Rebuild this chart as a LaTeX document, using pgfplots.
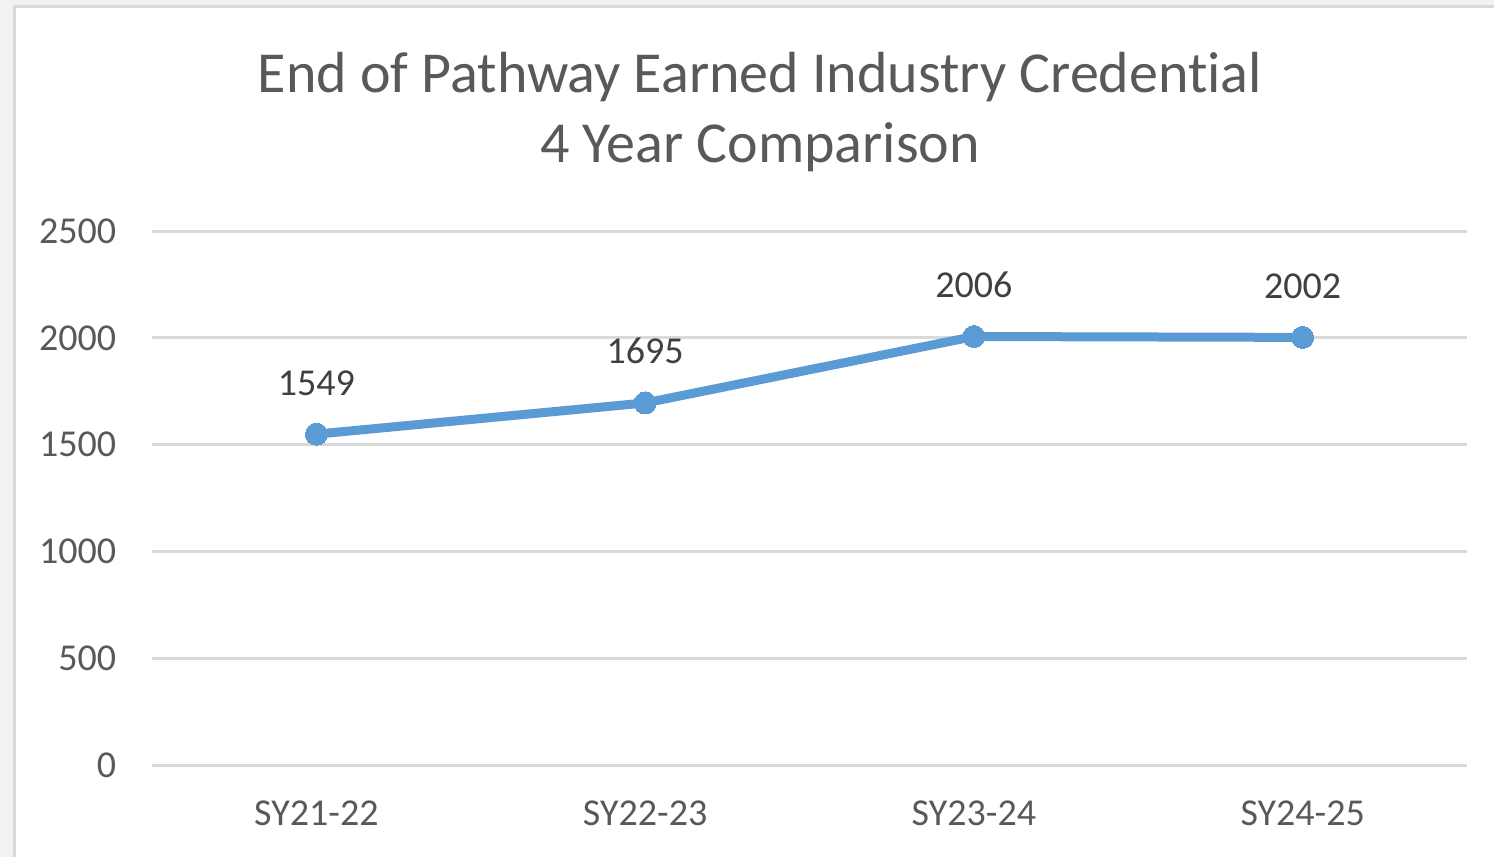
\documentclass[border=0pt]{standalone}
\usepackage{pgfplots}
\pgfplotsset{compat=1.18}
\usepackage{fontspec}
\setmainfont{Carlito}[Ligatures=CommonOff]

\definecolor{pagebg}{HTML}{F2F2F2}
\definecolor{frame}{HTML}{D9D9D9}
\definecolor{gridc}{HTML}{D9D9D9}
\definecolor{txt}{HTML}{595959}
\definecolor{lbl}{HTML}{404040}
\definecolor{series}{HTML}{5B9BD5}

\begin{document}
\begin{tikzpicture}
% canvas and chart frame
\fill[pagebg] (0,0) rectangle (373.5pt,214.25pt);
\useasboundingbox (0,0) rectangle (373.5pt,214.25pt);
\fill[white] (3.25pt,0) rectangle (373.5pt,213pt);
\draw[frame, line width=0.75pt] (3.6pt,0) -- (3.6pt,212.6pt) -- (373.5pt,212.6pt);

% title
\node[anchor=base, inner sep=0pt, text=txt, font=\fontsize{14.5}{17}\selectfont]
  at (190pt,191pt) {End of Pathway Earned Industry Credential};
\node[anchor=base, inner sep=0pt, text=txt, font=\fontsize{14.5}{17}\selectfont]
  at (190pt,173.5pt) {4 Year Comparison};

\begin{axis}[
  at={(38pt,23pt)}, anchor=south west,
  scale only axis, width=328.75pt, height=133.5pt,
  xmin=-0.5, xmax=3.5, ymin=0, ymax=2500,
  xtick={0,1,2,3},
  xticklabels={SY21-22,SY22-23,SY23-24,SY24-25},
  ytick={0,500,1000,1500,2000,2500},
  axis line style={draw=none},
  major tick length=0pt,
  ymajorgrids,
  grid style={line width=0.75pt, gridc},
  tick label style={font=\fontsize{9.5}{11}\selectfont, text=txt, inner sep=0pt},
  yticklabel style={anchor=east, xshift=-8.75pt},
  xticklabel style={anchor=north, yshift=-8.75pt},
  /pgf/number format/assume math mode=true,
  /pgf/number format/1000 sep={},
  scaled y ticks=false,
  clip=false,
  nodes near coords,
  every node near coord/.append style={
    font=\fontsize{9.5}{11}\selectfont, text=lbl, inner sep=0pt,
    anchor=base, yshift=9.75pt},
]
\addplot[series, line width=2.25pt, mark=*, mark size=2.75pt,
  mark options={fill=series, draw=series, line width=0pt}]
  coordinates {(0,1549) (1,1695) (2,2006) (3,2002)};
\end{axis}
\end{tikzpicture}
\end{document}
